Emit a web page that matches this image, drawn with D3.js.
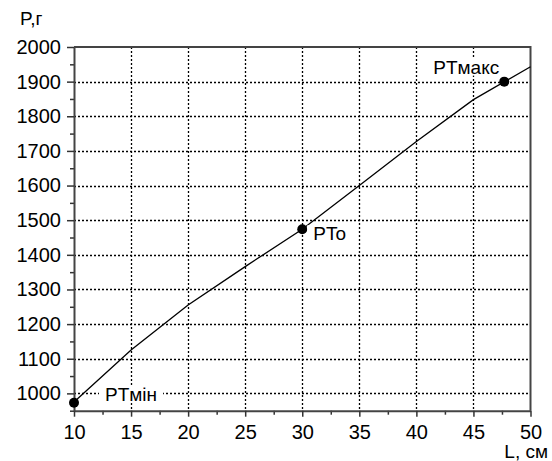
<!DOCTYPE html>
<html>
<head>
<meta charset="utf-8">
<script src="https://d3js.org/d3.v7.min.js"></script>
<style>
  body { margin: 0; background: #fff; }
  text { font-family: "Liberation Sans", Arial, sans-serif; fill: #000; }
</style>
</head>
<body>
<div id="my_dataviz"></div>
<script>
// data
var lengths = [10, 15, 20, 25, 30, 35, 40, 45, 50];
var weights = [975, 1125, 1255, 1366, 1474, 1600, 1727, 1848, 1943];
var pointNames = ["PTмін", "PTo", "PTмакс"];
var pointL = [10, 30, 47.7];
var pointP = [973, 1474, 1900];
var xTicks = [10, 15, 20, 25, 30, 35, 40, 45, 50];
var yTicks = [1000, 1100, 1200, 1300, 1400, 1500, 1600, 1700, 1800, 1900, 2000];

// set the dimensions and margins of the graph
var margin = {top: 47, right: 21.5, bottom: 50.3, left: 74},
    width = 552 - margin.left - margin.right,
    height = 461 - margin.top - margin.bottom;

var svg = d3.select("#my_dataviz")
  .append("svg")
    .attr("width", 552)
    .attr("height", 461)
  .append("g")
    .attr("transform", "translate(" + margin.left + "," + margin.top + ")");

var x = d3.scaleLinear().domain([10, 50]).range([0, width]);
var y = d3.scaleLinear().domain([950, 2000]).range([height, 0]);

// grid (dotted)
svg.append("g")
  .selectAll("line")
  .data(xTicks.slice(1, -1))
  .enter().append("line")
    .attr("x1", function(d) { return Math.round(x(d)) + 0.5; })
    .attr("x2", function(d) { return Math.round(x(d)) + 0.5; })
    .attr("y1", 0).attr("y2", height)
    .attr("stroke", "#000")
    .attr("stroke-width", 1.3)
    .attr("stroke-dasharray", "2,2");
svg.append("g")
  .selectAll("line")
  .data(yTicks.slice(0, -1))
  .enter().append("line")
    .attr("y1", function(d) { return Math.round(y(d)) + 0.5; })
    .attr("y2", function(d) { return Math.round(y(d)) + 0.5; })
    .attr("x1", 0).attr("x2", width)
    .attr("stroke", "#000")
    .attr("stroke-width", 1.3)
    .attr("stroke-dasharray", "2,2");

// X axis, with minor ticks
var xMinor = d3.range(12.5, 50, 5);
svg.append("g")
  .attr("transform", "translate(0," + height + ")")
  .call(d3.axisBottom(x).tickValues(xMinor).tickSize(4).tickFormat(""))
  .call(function(g) { g.select(".domain").remove(); });
var xAxis = svg.append("g")
  .attr("transform", "translate(0," + height + ")")
  .call(d3.axisBottom(x).tickValues(xTicks).tickSize(6).tickSizeOuter(0)
    .tickPadding(8).tickFormat(d3.format("d")));
xAxis.selectAll("text").style("font-size", "20px").attr("font-family", null);

// Y axis, with minor ticks
var yMinor = d3.range(1050, 2000, 100).concat([950]);
svg.append("g")
  .call(d3.axisLeft(y).tickValues(yMinor).tickSize(4).tickFormat(""))
  .call(function(g) { g.select(".domain").remove(); });
var yAxis = svg.append("g")
  .call(d3.axisLeft(y).tickValues(yTicks).tickSize(7).tickSizeOuter(0)
    .tickPadding(6).tickFormat(d3.format("d")));
yAxis.selectAll("text").style("font-size", "20px").attr("font-family", null);

svg.selectAll(".tick line").attr("stroke", "#333").attr("stroke-width", 1.5);
svg.selectAll(".domain").attr("stroke", "#444").attr("stroke-width", 2);

// top and right frame
svg.append("path")
  .attr("d", "M0,0H" + width + "V" + height)
  .attr("fill", "none")
  .attr("stroke", "#444")
  .attr("stroke-width", 2);

// the curve
svg.append("path")
  .datum(d3.zip(lengths, weights))
  .attr("d", d3.line()
    .x(function(d) { return x(d[0]); })
    .y(function(d) { return y(d[1]); }))
  .attr("fill", "none")
  .attr("stroke", "#000")
  .attr("stroke-width", 1.3);

// points
svg.append("g")
  .selectAll("circle")
  .data(pointL)
  .enter().append("circle")
    .attr("cx", function(d) { return x(d); })
    .attr("cy", function(d, i) { return y(pointP[i]); })
    .attr("r", 5)
    .attr("fill", "#000");

// point labels, on a white box so the grid does not run through them
var labelDx = [31, 11, -71];
var labelDy = [-2, 11, -8];
var labels = svg.append("g")
  .selectAll("g")
  .data(pointNames)
  .enter().append("g");
labels.append("rect").attr("fill", "#fff");
labels.append("text")
    .attr("x", function(d, i) { return x(pointL[i]) + labelDx[i]; })
    .attr("y", function(d, i) { return y(pointP[i]) + labelDy[i]; })
    .style("font-size", "19px")
    .text(function(d) { return d; });
labels.each(function() {
  var g = d3.select(this);
  var b = g.select("text").node().getBBox();
  g.select("rect")
    .attr("x", b.x - 6).attr("y", b.y + 2)
    .attr("width", b.width + 12).attr("height", b.height - 4);
});

// axis titles
svg.append("text")
  .attr("x", 20 - margin.left)
  .attr("y", 25 - margin.top)
  .style("font-size", "19px")
  .text("P,г");
svg.append("text")
  .attr("x", 548 - margin.left)
  .attr("y", 458 - margin.top)
  .attr("text-anchor", "end")
  .style("font-size", "19px")
  .text("L, см");
</script>
</body>
</html>
